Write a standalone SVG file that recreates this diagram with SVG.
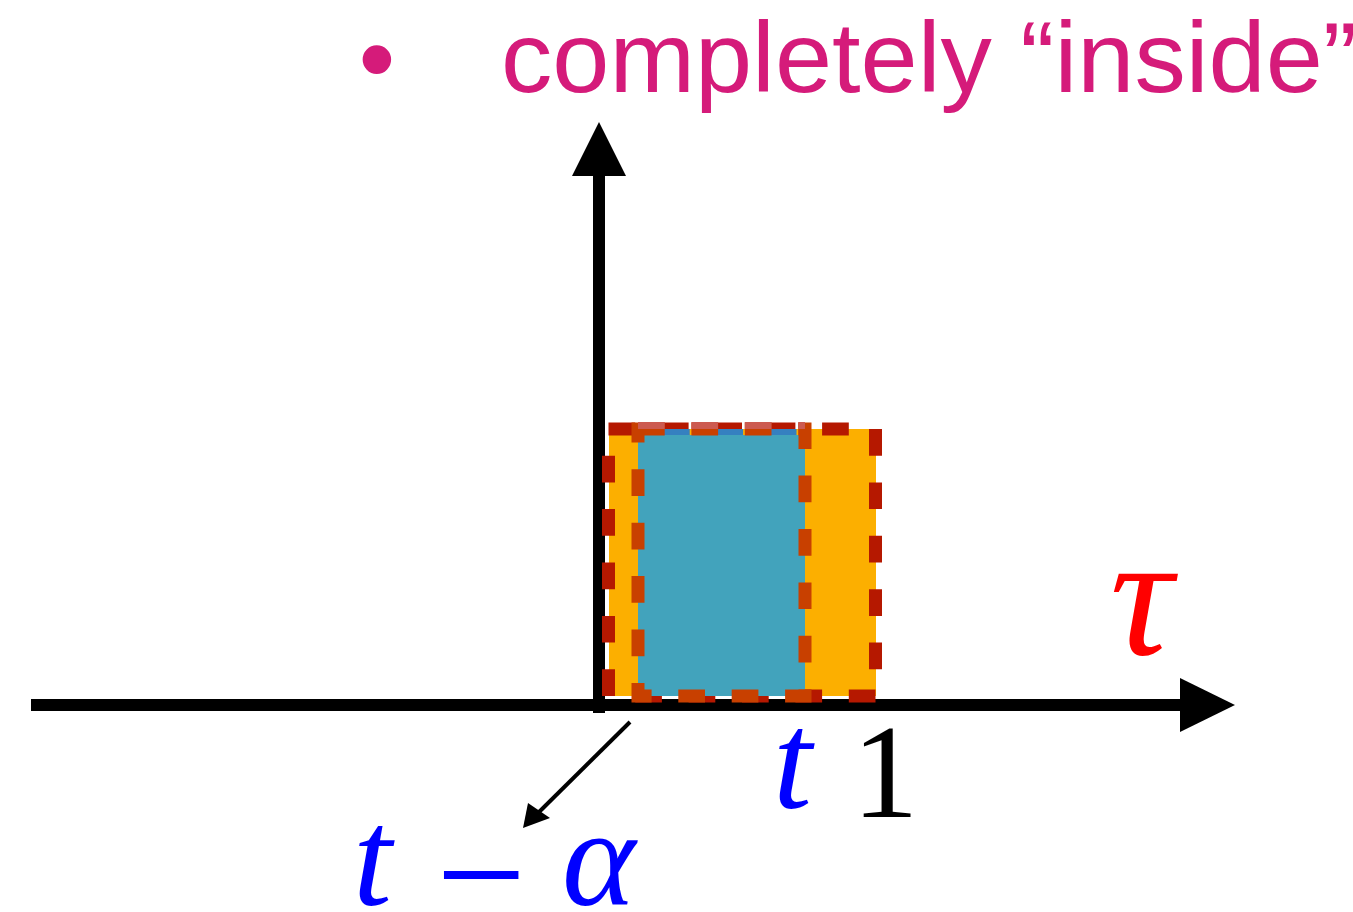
<svg xmlns="http://www.w3.org/2000/svg" width="1353" height="912" viewBox="0 0 1353 912">
<style>
.math{font-family:"Liberation Serif","Times New Roman",serif;font-style:italic}
.rm{font-family:"Liberation Serif","Times New Roman",serif}
.title{font-family:"Liberation Sans",Arial,sans-serif;fill:#D51B7A}
.axis{stroke:#000;stroke-width:12;fill:none}
.dash{fill:none;stroke-width:13;stroke-dasharray:26.7 26.7}
</style>
<rect width="1353" height="912" fill="#fff"/>
<g id="title">
<text class="title" x="377" y="95" font-size="105" text-anchor="middle">•</text>
<text class="title" x="501" y="92" font-size="101" textLength="856" lengthAdjust="spacingAndGlyphs">completely “inside”</text>
</g>
<g id="axes">
<line class="axis" x1="31" y1="705" x2="1182" y2="705"/>
<polygon points="1180,678 1235,705 1180,732" fill="#000"/>
<line class="axis" x1="599" y1="713" x2="599" y2="174"/>
<polygon points="572,176 599,122 626,176" fill="#000"/>
</g>
<g id="region">
<rect x="609" y="429" width="267" height="267" fill="#FCAF00"/>
<rect class="dash" x="608.5" y="429" width="267" height="267" stroke="#B51800"/>
<rect x="638" y="435" width="167" height="261" fill="#42A3BC"/>
<line x1="638" y1="432" x2="805" y2="432" stroke="#3580C0" stroke-width="6" stroke-dasharray="26.7 26.7" stroke-dashoffset="-25"/>
<rect class="dash" x="638" y="429" width="167" height="267" stroke="#C84000"/>
<line x1="638" y1="425.5" x2="805" y2="425.5" stroke="#CC5A50" stroke-width="7" stroke-dasharray="26.7 26.7"/>
</g>
<g id="connectors">
<line x1="630" y1="722" x2="535" y2="816" stroke="#000" stroke-width="4"/>
<polygon points="528,803 550,818 523,828" fill="#000"/>
</g>
<g id="labels">
<text class="math" x="1110" y="654" font-size="175" fill="#FF0000">τ</text>
<text class="math" x="773" y="808" font-size="140" fill="#0000FF">t</text>
<text class="rm" x="852" y="817" font-size="133" fill="#000">1</text>
<text class="math" x="353" y="905" font-size="140" fill="#0000FF">t</text>
<text class="rm" x="436" y="928" font-size="160" fill="#0000FF">−</text>
<text class="math" x="562" y="905" font-size="140" fill="#0000FF">α</text>
</g>
</svg>
